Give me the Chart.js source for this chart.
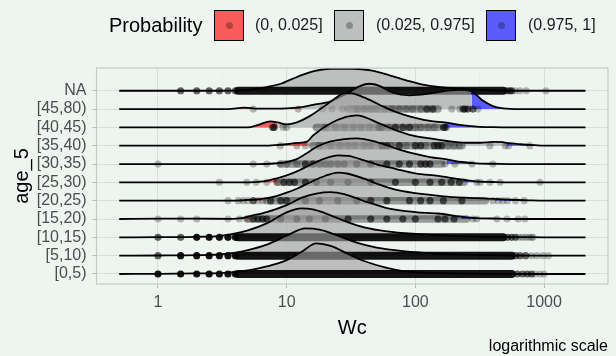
<!DOCTYPE html>
<html>
<head>
<meta charset="utf-8">
<script src="https://cdn.jsdelivr.net/npm/chart.js@4.4.1/dist/chart.umd.min.js"></script>
<style>
  html, body { margin: 0; padding: 0; background: #eef5f0; }
  #wrap { position: relative; width: 616px; height: 356px; font-family: "Liberation Sans", Arial, sans-serif; }
  #chart { position: absolute; left: 0; top: 0; }
  .legend-title { position: absolute; left: 109px; top: 13px; font-size: 20px; line-height: 24px; color: #000; }
  .key { position: absolute; top: 10px; width: 28px; height: 29px; border: 1.5px solid #000; }
  .key span { position: absolute; left: 50%; top: 50%; width: 7px; height: 7px; margin: -3.5px 0 0 -3.5px; border-radius: 50%; background: rgba(0,0,0,0.28); }
  .key-label { position: absolute; top: 15px; font-size: 16px; line-height: 20px; color: #1a1a1a; white-space: nowrap; }
  .caption { position: absolute; right: 8px; top: 336px; font-size: 16px; line-height: 20px; color: #000; }
</style>
</head>
<body>
<div id="wrap">
  <canvas id="chart" width="616" height="356"></canvas>
  <div id="legend"></div>
  <div class="caption">logarithmic scale</div>
</div>
<script>
const ageGroups = ["[0,5)", "[5,10)", "[10,15)", "[15,20)", "[20,25)", "[25,30)", "[30,35)", "[35,40)", "[40,45)", "[45,80)", "NA"];

// ridge outlines: [Wc, height in row units]
const dens_0_5 = [[0.5,0],[1,0.01],[2,0.03],[3,0.05],[4,0.11],[5,0.19],[7,0.41],[10,0.76],[13,1.2],[17,1.67],[22,1.53],[30,1.09],[40,0.71],[60,0.33],[80,0.16],[120,0.07],[200,0.03],[400,0.01],[700,0],[2100,0]];
const dens_5_10 = [[0.5,0],[1,0.01],[2,0.03],[3,0.07],[4,0.16],[5,0.3],[7,0.6],[10,1.09],[14,1.49],[18,1.42],[25,1.09],[35,0.71],[50,0.44],[80,0.25],[150,0.11],[300,0.04],[600,0.01],[900,0],[2100,0]];
const dens_10_15 = [[0.5,0],[1,0.01],[2,0.03],[2.9,0.07],[4,0.22],[5,0.38],[7,0.76],[10,1.36],[13,1.58],[16,1.53],[20,1.31],[30,0.82],[40,0.55],[60,0.33],[100,0.19],[200,0.08],[400,0.03],[700,0.01],[1000,0],[2100,0]];
const dens_15_20 = [[0.5,0],[1,0.02],[2,0.02],[3.5,0.01],[4.5,0.05],[5.2,0.16],[7,0.38],[10,0.76],[13,1.15],[17,1.39],[22,1.47],[28,1.36],[40,0.98],[60,0.6],[100,0.38],[150,0.3],[225,0.13],[300,0.05],[450,0.02],[600,0],[2100,0]];
const dens_20_25 = [[0.5,0],[4,0],[5,0.04],[6.2,0.08],[8,0.22],[10,0.44],[12,0.65],[15,0.98],[20,1.36],[25,1.53],[30,1.47],[40,1.2],[50,0.93],[70,0.6],[100,0.41],[150,0.27],[200,0.19],[300,0.14],[417,0.1],[550,0.05],[750,0.02],[1000,0],[2100,0]];
const dens_25_30 = [[0.5,0],[5,0],[6.5,0.05],[8.4,0.22],[10,0.38],[12,0.6],[15,0.93],[20,1.31],[25,1.47],[30,1.45],[40,1.2],[50,0.98],[70,0.74],[100,0.49],[150,0.35],[200,0.22],[233,0.15],[300,0.05],[400,0.02],[550,0],[2100,0]];
const dens_30_35 = [[0.5,0],[6,0],[8,0.03],[9.4,0.08],[10,0.11],[12,0.27],[14,0.55],[17,0.93],[21,1.2],[27,1.34],[35,1.4],[50,1.2],[75,0.79],[100,0.55],[130,0.38],[176,0.25],[230,0.11],[300,0.04],[450,0.01],[600,0],[2100,0]];
const dens_35_40 = [[0.5,0],[7,0],[8,0.03],[10,0.08],[12,0.15],[14.4,0.22],[16,0.55],[21.7,1.2],[29,1.57],[35,1.66],[53,1.2],[71,0.84],[96,0.55],[130,0.4],[170,0.27],[250,0.16],[320,0.16],[400,0.21],[480,0.19],[514,0.15],[650,0.08],[850,0.03],[1100,0],[2100,0]];
const dens_40_45 = [[0.5,0],[5,0],[6,0.14],[7.5,0.33],[8.5,0.27],[10,0.16],[12,0.27],[15,0.6],[20,1.2],[25,1.69],[28,1.85],[32,1.85],[38,1.69],[45,1.47],[60,1.04],[80,0.71],[100,0.52],[130,0.35],[170,0.27],[220,0.14],[300,0.04],[400,0.01],[600,0],[2100,0]];
const dens_45_80 = [[0.5,0],[3.5,0],[4.7,0.08],[6,0.02],[10,0.04],[13,0.11],[16,0.23],[22,0.42],[29,0.83],[37,1.25],[44,1.38],[53,1.25],[67,0.89],[90,0.75],[130,0.85],[180,1.0],[222,1.05],[273,0.97],[330,0.49],[400,0.16],[480,0.04],[650,0],[2100,0]];
const dens_NA = [[0.5,0],[3,0],[5,0.05],[7,0.2],[9,0.38],[12,0.75],[16,1.06],[22,1.2],[33,1.2],[45,1.11],[63,0.84],[85,0.57],[114,0.33],[155,0.2],[220,0.12],[320,0.05],[500,0.01],[700,0],[2100,0]];
const ridges = [dens_0_5, dens_5_10, dens_10_15, dens_15_20, dens_20_25, dens_25_30, dens_30_35, dens_35_40, dens_40_45, dens_45_80, dens_NA];

// 2.5% and 97.5% quantiles of Wc per group
const lowerQ = [3, 3, 2.9, 5.2, 6.2, 8.4, 9.4, 14.4, 8.5, 13, 7];
const upperQ = [200, 300, 200, 225, 417, 233, 176, 514, 170, 273, 320];

// observations (jittered points)
const bandStart = [4.2, 4.2, 4.2, null, null, null, null, null, null, null, 4.2];
const bandEnd = [560, 560, 480, null, null, null, null, null, null, null, 480];
const cloudStart = [null, null, null, 5, 7, 8.5, 9, 16, 17, 30, null];
const cloudEnd = [null, null, null, 250, 350, 240, 160, 230, 150, 150, null];
const solidPts = [[1,1.5,2,2.5,3,3.5,4], [1.5,2,2.5,3,3.5,4], [2,2.5,3,3.5,4], [], [], [], [], [], [], [], []];
const darkPts = [
  [620,680,740,800],
  [1,600,650,720],
  [1,1.5,520,560,600],
  [5.5,6,6.5,7,9,12,15,20,30,45,60,80,100,150,170,200],
  [5.5,7.5,9,10,14,18,25,35,45,60,90,110,130,165,230],
  [9.5,10.5,11.5,14,17,22,30,45,70,100,130,160,190,220],
  [14,16,18,20,22,25,28,35,45,60,75,90,110,120,130],
  [55,60,75,100,110,140,150,160],
  [7.8,8,52,55,70,80,90,165,170],
  [123,137,235,243,256,280],
  [1.5,2,2.5,3,3.5,4,510,540,560]
];
const lightPts = [
  [850,930,1000],
  [800,880,980,1080],
  [640,680,720,760,800,820],
  [1,1.5,2,3.5,4.3,4.9,280,300,430,515,630,710],
  [3.5,4.2,4.6,5,6,6.5,400,440,480,520,600,700],
  [3,4.9,5.8,7,8.4,300,318,380,455,930],
  [1,5.5,7,8.9,10,12,170,203,275,400],
  [8.9,12,14,18,22,26,30,34,40,45,65,85,120,180,200,220,380,500,530,775],
  [9.4,10,20,24,28,33,38,44,62,100,110,125,140,175],
  [5.5,12.3,19,22.5,27,35,40,45,50,58,66,75,85,95,110,192,222,306],
  [595,650,727,1035]
];

const xMajor = [1, 10, 100, 1000];
const xMinor = [3.16, 31.6, 316];

const probLabels = ["(0, 0.025]", "(0.025, 0.975]", "(0.975, 1]"];
const probColors = ["rgba(255,0,0,0.627)", "rgba(160,160,160,0.627)", "rgba(0,0,255,0.627)"];

// legend (html)
const legend = document.getElementById("legend");
const keyLeft = [214, 334, 486];
const labelLeft = [255, 376, 528];
legend.innerHTML = '<div class="legend-title">Probability</div>' + probLabels.map((lab, i) =>
  '<div class="key" style="left:' + keyLeft[i] + 'px;background:' + probColors[i] + '"><span></span></div>' +
  '<div class="key-label" style="left:' + labelLeft[i] + 'px">' + lab + '</div>').join("");

const datasets = [];
ageGroups.forEach((name, g) => {
  const base = g * 6;
  datasets.push({
    data: ridges[g].map(([w, h]) => ({ x: w, y: g + h })),
    borderColor: "#000",
    borderWidth: 1.8,
    pointRadius: 0,
    cubicInterpolationMode: "monotone",
    fill: { value: g },
    backgroundColor: probColors[1],
    segment: {
      backgroundColor: c => c.p1.parsed.x <= lowerQ[g] ? probColors[0] : (c.p0.parsed.x >= upperQ[g] ? probColors[2] : probColors[1])
    },
    order: base + 5
  });
  if (bandStart[g] !== null) {
    datasets.push({
      data: [{ x: bandStart[g], y: g }, { x: bandEnd[g], y: g }],
      borderColor: "rgba(0,0,0,0.92)", borderWidth: 8, borderCapStyle: "round",
      pointRadius: 0, fill: false, order: base + 4
    });
  }
  if (cloudStart[g] !== null) {
    datasets.push({
      data: [{ x: cloudStart[g], y: g }, { x: cloudEnd[g], y: g }],
      borderColor: "rgba(0,0,0,0.36)", borderWidth: 7.5, borderCapStyle: "round",
      pointRadius: 0, fill: false, order: base + 4
    });
  }
  [[lightPts[g], 0.26, 3], [darkPts[g], 0.6, 2], [solidPts[g], 0.92, 1]].forEach(([pts, a, o]) => {
    if (!pts.length) return;
    datasets.push({
      data: pts.map(w => ({ x: w, y: g })),
      showLine: false,
      pointRadius: 3.6,
      pointBorderWidth: 0,
      pointBackgroundColor: "rgba(0,0,0," + a + ")",
      pointBorderColor: "rgba(0,0,0,0)",
      fill: false,
      order: base + o
    });
  });
});

const gridMajor = "#d8dfdb";
const gridMinor = "#e4ebe7";
const tickCol = "#b4bab6";
const font = { family: "'Liberation Sans', Arial, sans-serif", size: 16 };

const panelBorder = {
  id: "panelBorder",
  afterDatasetsDraw(chart) {
    const { ctx, chartArea: a } = chart;
    ctx.save();
    ctx.strokeStyle = "#c3cac6";
    ctx.lineWidth = 1.2;
    ctx.strokeRect(a.left, a.top, a.right - a.left, a.bottom - a.top);
    ctx.restore();
  }
};

new Chart(document.getElementById("chart"), {
  type: "line",
  data: { datasets },
  options: {
    responsive: false,
    animation: false,
    devicePixelRatio: 1,
    events: [],
    layout: { padding: { top: 68, right: 8, bottom: 0, left: 0 } },
    plugins: { legend: { display: false }, tooltip: { enabled: false } },
    scales: {
      x: {
        type: "logarithmic",
        bounds: "data",
        min: 0.333,
        max: 3140,
        afterBuildTicks: s => { s.ticks = xMajor.concat(xMinor).sort((a, b) => a - b).map(v => ({ value: v })); },
        afterFit: s => { s.height = 72; },
        ticks: {
          autoSkip: false, maxRotation: 0, padding: 5, color: "#4d4d4d", font,
          callback: v => xMajor.includes(v) ? String(v) : ""
        },
        grid: {
          color: c => c.tick && xMajor.includes(c.tick.value) ? gridMajor : gridMinor,
          lineWidth: c => c.tick && xMajor.includes(c.tick.value) ? 1 : 0.7,
          tickLength: 4,
          tickColor: c => c.tick && xMajor.includes(c.tick.value) ? tickCol : "rgba(0,0,0,0)"
        },
        border: { display: false },
        title: { display: true, text: "Wc", color: "#000", font: { family: font.family, size: 20 }, padding: { top: 0, bottom: 16 } }
      },
      y: {
        type: "linear",
        min: -0.546,
        max: 11.24,
        afterBuildTicks: s => { s.ticks = ageGroups.map((_, i) => ({ value: i })); },
        afterFit: s => { s.width = 96.5; },
        ticks: { autoSkip: false, padding: 6, color: "#4d4d4d", font, callback: v => ageGroups[v] },
        grid: { color: gridMajor, lineWidth: 1, tickLength: 4, tickColor: tickCol },
        border: { display: false },
        title: { display: true, text: "age_5", color: "#000", font: { family: font.family, size: 20 }, padding: { top: 10, bottom: 0 } }
      }
    }
  },
  plugins: [panelBorder]
});
</script>
</body>
</html>
